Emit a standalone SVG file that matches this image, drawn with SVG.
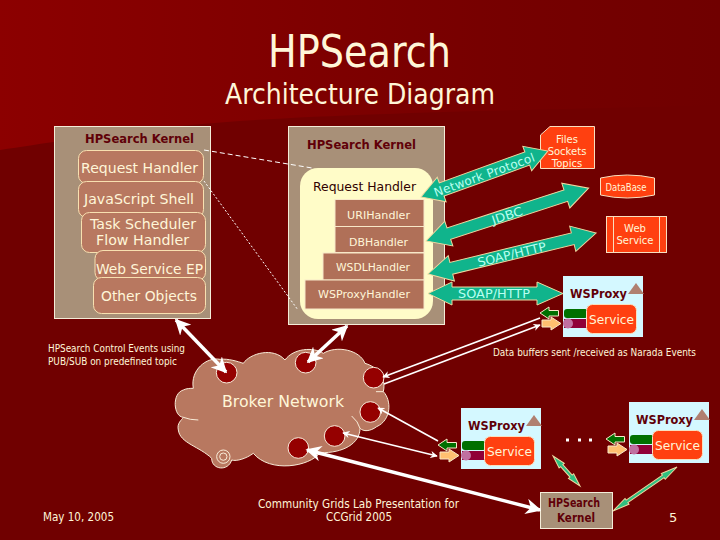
<svg xmlns="http://www.w3.org/2000/svg" width="720" height="540" viewBox="0 0 720 540">
<style>
text{font-family:"DejaVu Sans","Liberation Sans",sans-serif;fill:#fff6d8}
.k{fill:#a89078;stroke:#f4ecd8;stroke-width:1}
.h{fill:#b87860;stroke:#f8e0b0;stroke-width:1}
.rh{fill:#b07058;stroke:#f8e8c8;stroke-width:1}
.o{fill:#ff4010;stroke:#f8e0c0;stroke-width:1}
.dk{fill:#600008;font-weight:bold}
.ar{fill:#10b48c;stroke:#f0d8a0;stroke-width:1}
.at{fill:#b8fff0}
.bk{fill:#950000;stroke:#f8e8d8;stroke-width:3}
.w{stroke:#fff;fill:none}
.gr{fill:#30c080;stroke:#f0d8a0;stroke-width:1}
</style>
<defs>
<linearGradient id="bg" x1="0" x2="1" y1="0" y2="0"><stop offset="0" stop-color="#8c0000"/><stop offset="0.7" stop-color="#760000"/><stop offset="1" stop-color="#700000"/></linearGradient>
<marker id="wh" viewBox="0 0 10 10" refX="9" refY="5" markerWidth="4.5" markerHeight="4.5" orient="auto-start-reverse"><path d="M0,0L10,5L0,10L3,5Z" fill="#fff"/></marker>
</defs>
<rect width="720" height="540" fill="#700000"/>
<path d="M0,0H720V105C560,110 300,112 160,128C90,136 40,144 0,150Z" fill="url(#bg)"/>
<g id="title">
<text x="268" y="67" font-size="45" textLength="183" lengthAdjust="spacingAndGlyphs">HPSearch</text>
<text x="225" y="104" font-size="28" textLength="270" lengthAdjust="spacingAndGlyphs">Architecture Diagram</text>
</g>
<g id="kernel-left">
<rect class="k" x="54.5" y="126.5" width="156" height="192"/>
<text class="dk" x="85" y="143" font-size="13" textLength="109" lengthAdjust="spacingAndGlyphs">HPSearch Kernel</text>
<rect class="h" x="78.5" y="150.5" width="125" height="33" rx="8"/>
<text x="81" y="173" font-size="14" textLength="117" lengthAdjust="spacingAndGlyphs">Request Handler</text>
<rect class="h" x="78.5" y="181.5" width="125" height="36" rx="8"/>
<text x="84" y="204" font-size="14" textLength="110" lengthAdjust="spacingAndGlyphs">JavaScript Shell</text>
<rect class="h" x="81.5" y="212.5" width="124" height="40" rx="8"/>
<text x="90" y="229" font-size="14" textLength="106" lengthAdjust="spacingAndGlyphs">Task Scheduler</text>
<text x="96" y="245" font-size="14" textLength="93" lengthAdjust="spacingAndGlyphs">Flow Handler</text>
<rect class="h" x="95" y="250.5" width="110.5" height="30" rx="8"/>
<text x="96" y="274" font-size="14" textLength="107" lengthAdjust="spacingAndGlyphs">Web Service EP</text>
<rect class="h" x="93.5" y="277.5" width="112" height="36" rx="8"/>
<text x="101" y="301" font-size="14" textLength="96" lengthAdjust="spacingAndGlyphs">Other Objects</text>
</g>
<g id="kernel-right">
<rect class="k" x="288.5" y="126.5" width="156" height="198"/>
<text class="dk" x="307" y="149" font-size="13" textLength="109" lengthAdjust="spacingAndGlyphs">HPSearch Kernel</text>
<rect x="300" y="168" width="133" height="151" rx="18" fill="#fffcc8"/>
<text x="313" y="191" font-size="13" textLength="103" lengthAdjust="spacingAndGlyphs" style="fill:#300000">Request Handler</text>
<rect class="rh" x="335" y="199.5" width="89" height="27"/>
<text x="347" y="219" font-size="11" textLength="63" lengthAdjust="spacingAndGlyphs">URIHandler</text>
<rect class="rh" x="335" y="226.5" width="89" height="26"/>
<text x="349" y="246" font-size="11" textLength="59" lengthAdjust="spacingAndGlyphs">DBHandler</text>
<rect class="rh" x="323" y="253" width="101" height="27"/>
<text x="336" y="271" font-size="11" textLength="74" lengthAdjust="spacingAndGlyphs">WSDLHandler</text>
<rect class="rh" x="305" y="280" width="119" height="29"/>
<text x="318" y="298" font-size="11" textLength="92" lengthAdjust="spacingAndGlyphs">WSProxyHandler</text>
</g>
<g id="cloud">
<g transform="translate(170,320) scale(0.3333)" fill="#b87860" stroke="#f8ecd8" stroke-width="3">
<path d="M70,205C60,150 110,110 150,118C175,115 205,125 220,130C240,100 310,80 345,120C370,85 430,80 460,100C500,75 570,90 585,130C620,140 650,170 640,215C665,240 665,300 620,320C600,335 580,335 570,325C570,370 520,400 450,398C420,440 300,460 250,400C230,415 200,425 185,420C175,455 125,450 125,415C90,380 30,370 25,330C20,310 35,300 40,292C10,290 5,220 40,210C50,205 60,205 70,205Z"/>
<path d="M40,292Q60,300 85,300M545,288Q565,305 570,325M618,215H640" fill="none"/>
<circle cx="160" cy="410" r="20" fill="none"/>
<circle cx="160" cy="410" r="11" fill="none"/>
<circle class="bk" cx="170" cy="158" r="31"/>
<circle class="bk" cx="407" cy="128" r="31"/>
<circle class="bk" cx="611" cy="173" r="31"/>
<circle class="bk" cx="601" cy="276" r="31"/>
<circle class="bk" cx="494" cy="348" r="31"/>
<circle class="bk" cx="385" cy="384" r="31"/>
</g>
<text x="222" y="407" font-size="16" textLength="122" lengthAdjust="spacingAndGlyphs">Broker Network</text>
</g>
<g id="files"><path class="o" d="M550,126.5H594.5V168.5H540.5V135Z"/>
<text x="567" y="143" font-size="10" text-anchor="middle">Files</text>
<text x="567" y="155" font-size="10" text-anchor="middle">Sockets</text>
<text x="567" y="167" font-size="10" text-anchor="middle">Topics</text></g>
<g id="database"><path class="o" d="M600.5,178Q627,172 654.5,178V195Q627,201 600.5,195Z"/>
<text x="626" y="191" font-size="10" text-anchor="middle" textLength="41" lengthAdjust="spacingAndGlyphs">DataBase</text></g>
<g id="webservice"><rect class="o" x="606.5" y="216.5" width="60" height="36"/>
<path d="M613.5,216.5V252.5M659.5,216.5V252.5" stroke="#f8e0c0" fill="none"/>
<text x="635" y="232" font-size="10" text-anchor="middle">Web</text>
<text x="635" y="244" font-size="10" text-anchor="middle">Service</text></g>
<g id="wsproxy1">
<rect x="563" y="276" width="80" height="61" fill="#d4f8ff"/>
<text class="dk" x="570" y="298" font-size="13" textLength="57" lengthAdjust="spacingAndGlyphs">WSProxy</text>
<path d="M636,283L628,294H644Z" fill="#b08070"/>
<rect x="564" y="309" width="24" height="9" rx="3" fill="#007000"/>
<rect x="564" y="319" width="24" height="9" fill="#900038"/>
<circle cx="568" cy="323.500" r="5" fill="#c070a0"/>
<rect class="o" x="586.500" y="304.500" width="50" height="29" rx="6"/>
<text x="589" y="324" font-size="13" textLength="45" lengthAdjust="spacingAndGlyphs">Service</text>
<path d="M540,313L549,307V310.500H558.500V316H549V319Z" fill="#007000" stroke="#f8e8c8"/>
<path d="M561,323.500L551,317V320H542V327H551V330Z" fill="#ffc070" stroke="#f8e8c8"/>
</g>
<g id="wsproxy2" transform="translate(-102,132)">
<rect x="563" y="276" width="80" height="61" fill="#d4f8ff"/>
<text class="dk" x="570" y="298" font-size="13" textLength="57" lengthAdjust="spacingAndGlyphs">WSProxy</text>
<path d="M636,283L628,294H644Z" fill="#b08070"/>
<rect x="564" y="309" width="24" height="9" rx="3" fill="#007000"/>
<rect x="564" y="319" width="24" height="9" fill="#900038"/>
<circle cx="568" cy="323.500" r="5" fill="#c070a0"/>
<rect class="o" x="586.500" y="304.500" width="50" height="29" rx="6"/>
<text x="589" y="324" font-size="13" textLength="45" lengthAdjust="spacingAndGlyphs">Service</text>
<path d="M540,313L549,307V310.500H558.500V316H549V319Z" fill="#007000" stroke="#f8e8c8"/>
<path d="M561,323.500L551,317V320H542V327H551V330Z" fill="#ffc070" stroke="#f8e8c8"/>
</g>
<g id="wsproxy3" transform="translate(66,126)">
<rect x="563" y="276" width="80" height="61" fill="#d4f8ff"/>
<text class="dk" x="570" y="298" font-size="13" textLength="57" lengthAdjust="spacingAndGlyphs">WSProxy</text>
<path d="M636,283L628,294H644Z" fill="#b08070"/>
<rect x="564" y="309" width="24" height="9" rx="3" fill="#007000"/>
<rect x="564" y="319" width="24" height="9" fill="#900038"/>
<circle cx="568" cy="323.500" r="5" fill="#c070a0"/>
<rect class="o" x="586.500" y="304.500" width="50" height="29" rx="6"/>
<text x="589" y="324" font-size="13" textLength="45" lengthAdjust="spacingAndGlyphs">Service</text>
<path d="M540,313L549,307V310.500H558.500V316H549V319Z" fill="#007000" stroke="#f8e8c8"/>
<path d="M561,323.500L551,317V320H542V327H551V330Z" fill="#ffc070" stroke="#f8e8c8"/>
</g>
<g id="kernel-small">
<rect class="k" x="540.500" y="492.500" width="72" height="36"/>
<text class="dk" x="548" y="507" font-size="12" textLength="52" lengthAdjust="spacingAndGlyphs">HPSearch</text>
<text class="dk" x="557" y="522" font-size="12" textLength="38" lengthAdjust="spacingAndGlyphs">Kernel</text>
</g>
<g id="connectors">
<path d="M204,150L312,168" stroke="#fff" stroke-dasharray="5 3" fill="none"/>
<path d="M204,181L298,310" stroke="#fff" stroke-dasharray="2 2" fill="none"/>
<g transform="translate(421,197) rotate(-19.900)"><polygon class="ar" points="0,0 22,-13 22,-7 113,-7 113,-13 135,0 113,13 113,7 22,7 22,13"/><text class="at" x="67" y="5" font-size="12" text-anchor="middle" textLength="106" lengthAdjust="spacing">Network Protocol</text></g>
<g transform="translate(426,241) rotate(-18)"><polygon class="ar" points="0,0 24,-13 24,-6 147,-6 147,-13 171,0 147,13 147,6 24,6 24,13"/><text class="at" x="85" y="5" font-size="12" text-anchor="middle" textLength="32" lengthAdjust="spacingAndGlyphs">JDBC</text></g>
<g transform="translate(428,274) rotate(-13.700)"><polygon class="ar" points="0,0 24,-13 24,-6 149,-6 149,-13 173,0 149,13 149,6 24,6 24,13"/><text class="at" x="86" y="5" font-size="12" text-anchor="middle" textLength="70" lengthAdjust="spacingAndGlyphs">SOAP/HTTP</text></g>
<polygon class="ar" points="428,293.500 452,282 452,287 537,287 537,282 563,293.500 537,305 537,300 452,300 452,305"/>
<text class="at" x="494" y="298" font-size="12" text-anchor="middle" textLength="72" lengthAdjust="spacingAndGlyphs">SOAP/HTTP</text>
<path class="w" d="M176,320L226,372" stroke-width="3.500" marker-start="url(#wh)" marker-end="url(#wh)"/>
<path class="w" d="M347,326L308,362" stroke-width="3.500" marker-start="url(#wh)" marker-end="url(#wh)"/>
<path class="w" d="M540,318L383,377" stroke-width="1.600" marker-end="url(#wh)"/>
<path class="w" d="M384,384L540,325" stroke-width="1.600" marker-end="url(#wh)"/>
<path class="w" d="M378,408L438,441" stroke-width="1.600" marker-start="url(#wh)"/>
<path class="w" d="M343,433L437,456" stroke-width="1.600" marker-start="url(#wh)" marker-end="url(#wh)"/>
<path class="w" d="M307,450L540,510" stroke-width="3.500" marker-start="url(#wh)" marker-end="url(#wh)"/>
<g transform="translate(553,456) rotate(48)"><polygon class="gr" points="0,0 13,-3.500 13,-1.500 27,-1.500 27,-3.500 40.400,0 27,3.500 27,1.500 13,1.500 13,3.500"/></g>
<g transform="translate(613,511) rotate(-34.500)"><polygon class="gr" points="0,0 17,-3.500 17,-1.500 61,-1.500 61,-3.500 77.700,0 61,3.500 61,1.500 17,1.500 17,3.500"/></g>
<path d="M566,438.500h3v3h-3zM578,438.500h3v3h-3zM589,438.500h3v3h-3z" fill="#fff"/>
</g>
<g id="labels">
<text x="48" y="352" font-size="10" textLength="137" lengthAdjust="spacingAndGlyphs">HPSearch Control Events using</text>
<text x="48" y="365" font-size="10" textLength="129" lengthAdjust="spacingAndGlyphs">PUB/SUB on predefined topic</text>
<text x="493" y="356" font-size="10" textLength="203" lengthAdjust="spacingAndGlyphs">Data buffers sent /received as Narada Events</text>
<text x="258" y="508" font-size="12" textLength="201" lengthAdjust="spacingAndGlyphs">Community Grids Lab Presentation for</text>
<text x="326" y="521" font-size="12" textLength="66" lengthAdjust="spacingAndGlyphs">CCGrid 2005</text>
<text x="43" y="521" font-size="12" textLength="71" lengthAdjust="spacingAndGlyphs">May 10, 2005</text>
<text x="669" y="522" font-size="13">5</text>
</g>
</svg>
